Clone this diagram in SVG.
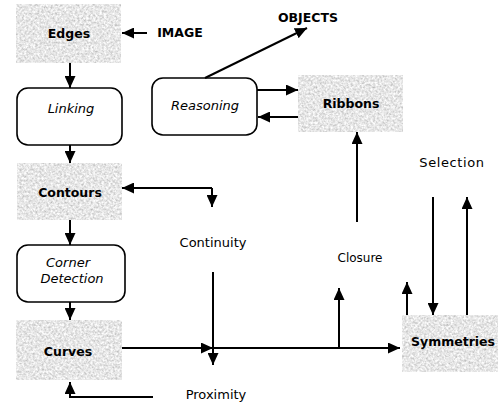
<svg xmlns="http://www.w3.org/2000/svg" width="498" height="405" viewBox="0 0 498 405">
<defs>
<filter id="grain" x="0" y="0" width="100%" height="100%">
<feTurbulence type="fractalNoise" baseFrequency="0.45" numOctaves="3" seed="7" result="n"/>
<feColorMatrix in="n" type="matrix" values="0.75 0 0 0 0.42 0.75 0 0 0 0.42 0.75 0 0 0 0.42 0 0 0 0 1" result="g"/>
<feComposite in="g" in2="SourceGraphic" operator="in"/>
</filter>
<marker id="ah" markerUnits="userSpaceOnUse" markerWidth="12" markerHeight="11" refX="12" refY="5.5" orient="auto">
<path d="M0,0 L12,5.5 L0,11 z" fill="#000"/>
</marker>
</defs>
<style>
.gray{fill:#c8c8c8;filter:url(#grain)}
.rbox{fill:#fff;stroke:#000;stroke-width:1.6}
.b{font-family:"DejaVu Sans","Liberation Sans",sans-serif;font-weight:bold;font-size:12.5px;fill:#000;text-anchor:middle}
.i{font-family:"DejaVu Sans","Liberation Sans",sans-serif;font-style:italic;font-size:13px;fill:#000;text-anchor:middle}
.r{font-family:"DejaVu Sans","Liberation Sans",sans-serif;font-size:13px;fill:#000;text-anchor:middle}
.c{fill:none;stroke:#000;stroke-width:2}
.a{marker-end:url(#ah)}
</style>
<rect width="498" height="405" fill="#fff"/>
<g id="edges"><rect class="gray" x="16" y="4" width="105" height="59"/><text class="b" x="69" y="38">Edges</text></g>
<g id="image"><text class="b" x="180" y="37">IMAGE</text></g>
<g id="objects"><text class="b" x="308" y="22">OBJECTS</text></g>
<g id="linking"><rect class="rbox" x="17" y="88" width="105" height="57" rx="11"/><text class="i" x="71" y="113">Linking</text></g>
<g id="reasoning"><rect class="rbox" x="152" y="78" width="105" height="57" rx="11"/><text class="i" x="205" y="110">Reasoning</text></g>
<g id="ribbons"><rect class="gray" x="298" y="75" width="105" height="57"/><text class="b" x="351" y="108">Ribbons</text></g>
<g id="contours"><rect class="gray" x="17" y="163" width="105" height="57"/><text class="b" x="70" y="197">Contours</text></g>
<g id="continuity"><text class="r" x="213" y="247">Continuity</text></g>
<g id="corner"><rect class="rbox" x="17" y="245" width="108" height="57" rx="11"/><text class="i" x="68" y="267">Corner</text><text class="i" x="72" y="283">Detection</text></g>
<g id="curves"><rect class="gray" x="16" y="320" width="106" height="60"/><text class="b" x="68" y="356">Curves</text></g>
<g id="proximity"><text class="r" x="216" y="399">Proximity</text></g>
<g id="closure"><text class="r" x="360" y="262" style="font-size:12px">Closure</text></g>
<g id="selection"><text class="r" x="452" y="167" style="letter-spacing:0.6px">Selection</text></g>
<g id="symmetries"><rect class="gray" x="402" y="315" width="96" height="57"/><text class="b" x="453" y="346">Symmetries</text></g>
<g id="connectors">
<path class="c a" d="M147,33 H122"/>
<path class="c a" d="M70,63 V88"/>
<path class="c a" d="M70,145 V163"/>
<path class="c a" d="M70,220 V245"/>
<path class="c a" d="M70,302 V320"/>
<path class="c a" d="M205,78 L307,28"/>
<path class="c a" d="M257,90 H298"/>
<path class="c a" d="M298,117 H258"/>
<path class="c a" d="M357,222 V132"/>
<path class="c a" d="M212,188 H122"/>
<path class="c a" d="M212,188 V207"/>
<path class="c a" d="M213,272 V365"/>
<path class="c a" d="M122,348 H213"/>
<path class="c a" d="M213,348 H400"/>
<path class="c a" d="M339,348 V288"/>
<path class="c a" d="M407,315 V282"/>
<path class="c a" d="M433,197 V315"/>
<path class="c a" d="M467,315 V197"/>
<path class="c a" d="M153,397 H70 V382"/>
</g>
</svg>
